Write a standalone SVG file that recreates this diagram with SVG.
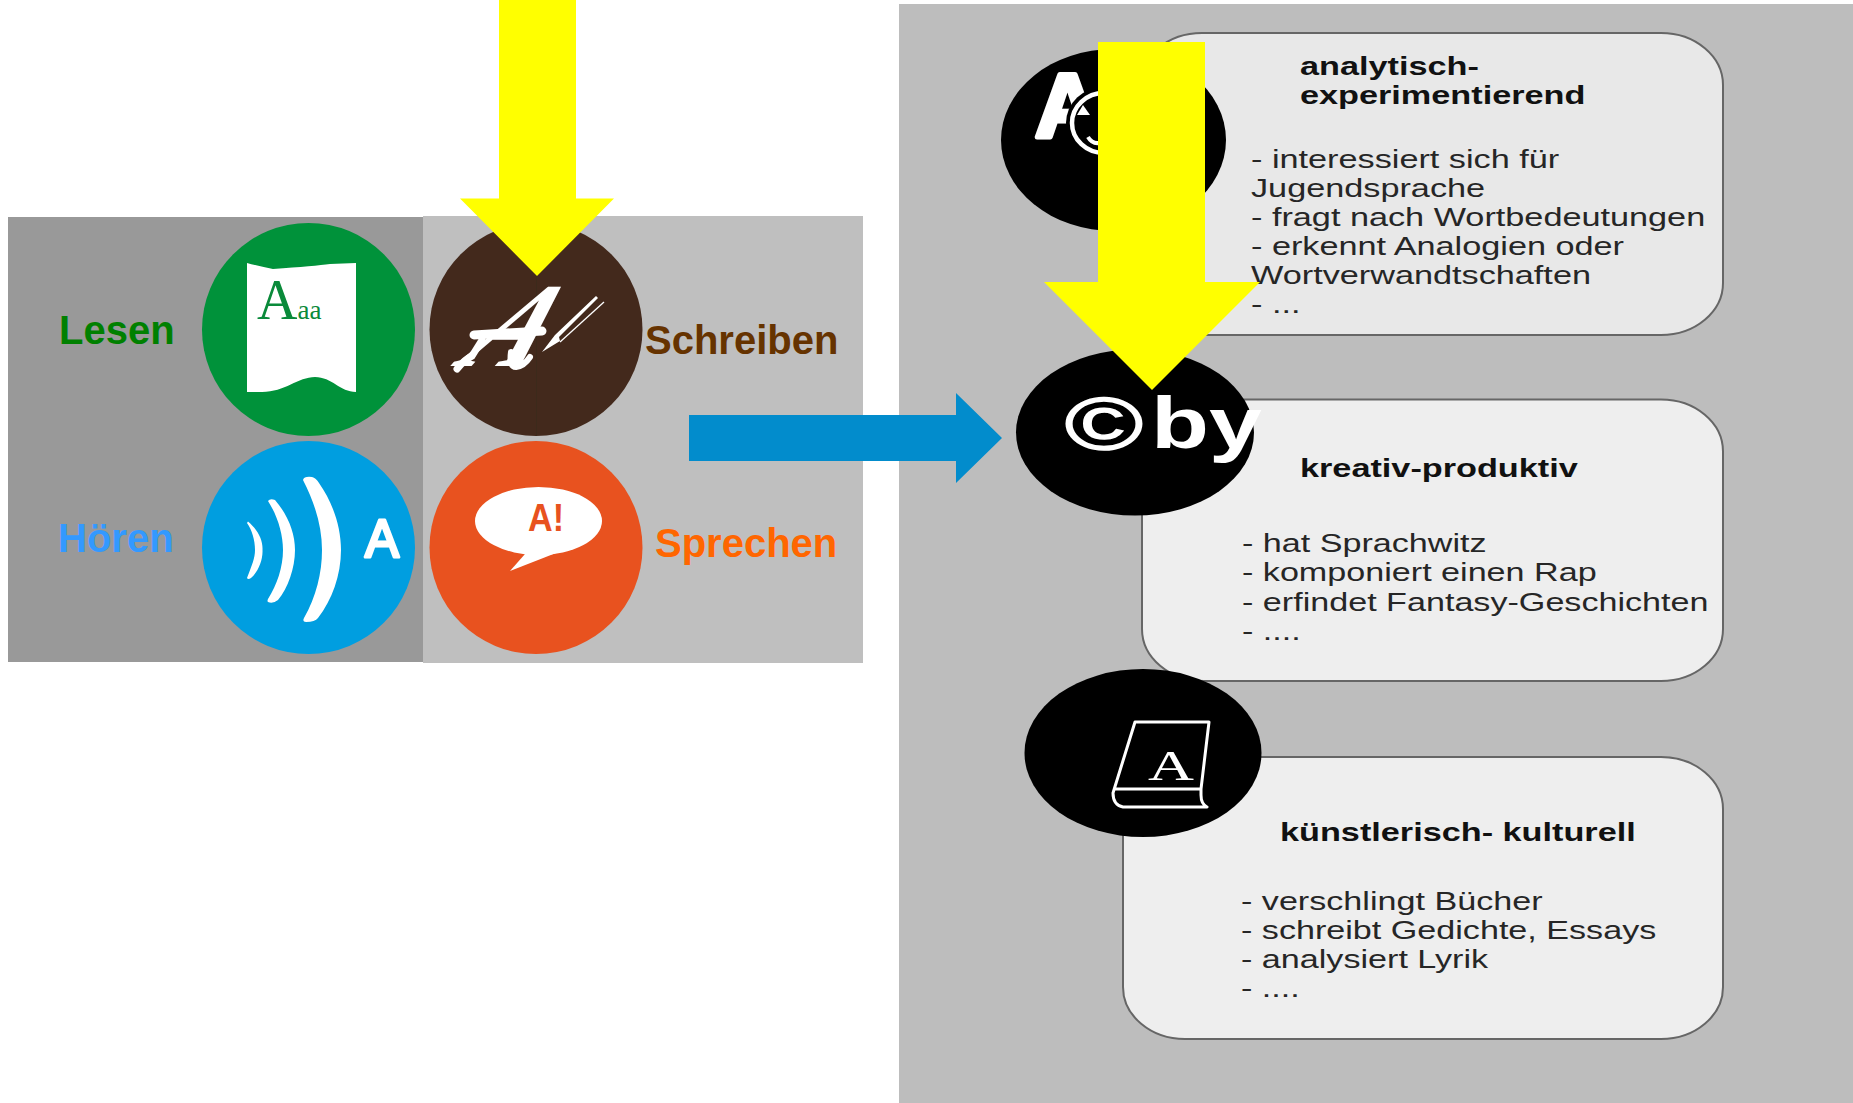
<svg xmlns="http://www.w3.org/2000/svg" width="1853" height="1103" viewBox="0 0 1853 1103">
<style>
text{font-family:"Liberation Sans",Arial,sans-serif}
.lab{font-size:40px;font-weight:700}
.ttl{font-size:25px;font-weight:700;fill:#111}
.bod{font-size:25px;fill:#262626}
.box{stroke:#666;stroke-width:2}
.w{fill:#fff}
.ser{font-family:"Liberation Serif","Times New Roman",serif}
.blk{fill:#000}
</style>
<rect width="1853" height="1103" fill="#fff"/>
<g id="panels">
<rect x="8" y="217" width="416" height="445" fill="#999"/>
<rect x="423" y="216" width="440" height="447" fill="#bfbfbf"/>
<rect x="899" y="4" width="954" height="1099" fill="#bdbdbd"/>
</g>
<g id="node-lesen">
<circle cx="308.500" cy="329.500" r="106.500" fill="#00923a"/>
<path class="w" d="M247 263Q258 266 273 269Q315 266 330 264L356 263V392C340 392 332 377 315 377C298 377 285 392 262 392H247Z"/>
<text class="ser" x="257" y="319" font-size="56" fill="#0a8a3a">A<tspan font-size="27">aa</tspan></text>
<text class="lab" x="59" y="343.500" fill="#008000">Lesen</text>
</g>
<g id="node-hoeren">
<circle cx="308.500" cy="547.500" r="106.500" fill="#009ee0"/>
<path class="w" d="M248 521.500C258 530 263 540 262.500 550C263 560 258 572 251 578Q248 580 247 578C252 565 255 558 255 550C255 540 252 530 247 523Z"/>
<path class="w" d="M268 501Q270 498 275 500C288 515 295 533 295 550C295 568 288 588 278 600Q273 604 268 602Q267 601 268 599C277 585 283 567 283 550C283 533 277 515 268 501Z"/>
<path class="w" d="M303 480Q304 476 312 477Q316 478 319 483C333 503 341 527 341 550C341 575 332 600 318 618Q315 622 306 622Q302 622 304 618C316 597 322 573 322 550C322 527 315 503 303 480Z"/>
<text class="w" x="365" y="557" font-size="53" stroke="#fff" stroke-width="3" stroke-linejoin="round" textLength="34" lengthAdjust="spacingAndGlyphs">A</text>
<text class="lab" x="58" y="552" fill="#3399ff">Hören</text>
</g>
<g id="node-schreiben">
<circle cx="536" cy="329.500" r="106.500" fill="#43291c"/>
<line x1="536.500" y1="270" x2="536.500" y2="436" stroke="#3c2a1b"/>
<text class="w ser" transform="matrix(0.92 0 -0.7 1 456 366)" font-size="120" font-weight="700" font-style="italic">A</text>
<path d="M474 335L542 331" fill="none" stroke="#fff" stroke-width="9" stroke-linecap="round"/>
<path d="M457 369Q464 360 472 356L482 340" fill="none" stroke="#fff" stroke-width="7" stroke-linecap="round"/>
<path d="M511 352Q509 367 516 367Q524 366 530 357" fill="none" stroke="#fff" stroke-width="6" stroke-linecap="round"/>
<path class="w" d="M555 335L596 296L598 298L559 337L560 341L542 352Z"/>
<line x1="560" y1="342" x2="604" y2="302" stroke="#fff" stroke-width="1.300"/>
<text class="lab" x="645" y="353.500" fill="#663300">Schreiben</text>
</g>
<g id="node-sprechen">
<circle cx="536" cy="547.500" r="106.500" fill="#e8521f"/>
<ellipse class="w" cx="538.500" cy="521" rx="63.500" ry="34"/>
<path class="w" d="M525 554L510 571L556 553Z"/>
<text x="528" y="531" font-size="39" font-weight="700" fill="#e8521f" textLength="36" lengthAdjust="spacingAndGlyphs">A!</text>
<text class="lab" x="655" y="556.500" fill="#ff6600">Sprechen</text>
</g>
<g id="node-analytisch">
<rect class="box" x="1140" y="33" width="583" height="302" rx="62" ry="52" fill="#e8e8e8"/>
<ellipse class="blk" cx="1113.500" cy="140" rx="112.500" ry="91"/>
<text class="w" x="1035" y="137" font-size="90" font-weight="700" stroke="#fff" stroke-width="5" stroke-linejoin="round">A</text>
<ellipse class="blk" cx="1104" cy="123" rx="38" ry="36"/>
<ellipse cx="1104" cy="123" rx="32" ry="30" fill="none" stroke="#fff" stroke-width="4.500"/>
<path class="w" d="M1083 105L1090 115H1077Z"/>
<path d="M1088 137Q1092 144 1099 143" fill="none" stroke="#fff" stroke-width="4"/>
<text class="ttl" transform="matrix(1.37 0 0 1 1300 75)">analytisch-</text>
<text class="ttl" transform="matrix(1.37 0 0 1 1300 104)">experimentierend</text>
<text class="bod" transform="matrix(1.37 0 0 1 1251 168)">- interessiert sich für</text>
<text class="bod" transform="matrix(1.37 0 0 1 1251 197)">Jugendsprache</text>
<text class="bod" transform="matrix(1.37 0 0 1 1251 226)">- fragt nach Wortbedeutungen</text>
<text class="bod" transform="matrix(1.37 0 0 1 1251 255)">- erkennt Analogien oder</text>
<text class="bod" transform="matrix(1.37 0 0 1 1251 284)">Wortverwandtschaften</text>
<text class="bod" transform="matrix(1.37 0 0 1 1251 313)">- ...</text>
</g>
<g id="node-kreativ">
<rect class="box" x="1142" y="399.500" width="581" height="281.500" rx="62" ry="52" fill="#eee"/>
<ellipse class="blk" cx="1135" cy="432.500" rx="119" ry="83"/>
<text class="w" transform="matrix(1.43 0 0 1 1065 449)" font-size="74" stroke="#fff" stroke-width="1.500">©</text>
<text class="w" transform="matrix(1.3 0 0 1 1151 448)" font-size="73" font-weight="700">by</text>
<text class="ttl" transform="matrix(1.37 0 0 1 1300 477)">kreativ-produktiv</text>
<text class="bod" transform="matrix(1.365 0 0 1 1242 552)">- hat Sprachwitz</text>
<text class="bod" transform="matrix(1.365 0 0 1 1242 581)">- komponiert einen Rap</text>
<text class="bod" transform="matrix(1.365 0 0 1 1242 610.500)">- erfindet Fantasy-Geschichten</text>
<text class="bod" transform="matrix(1.365 0 0 1 1242 640)">- ....</text>
</g>
<g id="node-kuenstlerisch">
<rect class="box" x="1123" y="757" width="600" height="282" rx="62" ry="52" fill="#eee"/>
<ellipse class="blk" cx="1143" cy="753" rx="118.500" ry="84"/>
<path d="M1135 722H1209L1201 789V795Q1201 804 1207 807H1123Q1113 805 1113 793L1135 722ZM1115 789H1201" fill="none" stroke="#fff" stroke-width="3" stroke-linejoin="round"/>
<text class="w ser" transform="matrix(1.48 0 0 1 1148 780)" font-size="43">A</text>
<text class="ttl" transform="matrix(1.37 0 0 1 1280 841)">künstlerisch- kulturell</text>
<text class="bod" transform="matrix(1.365 0 0 1 1241 910)">- verschlingt Bücher</text>
<text class="bod" transform="matrix(1.365 0 0 1 1241 939)">- schreibt Gedichte, Essays</text>
<text class="bod" transform="matrix(1.365 0 0 1 1241 968)">- analysiert Lyrik</text>
<text class="bod" transform="matrix(1.365 0 0 1 1241 997)">- ....</text>
</g>
<g id="connectors">
<polygon fill="#ffff00" points="499,0 576,0 576,198.500 614,198.500 537,276 460,198.500 499,198.500"/>
<polygon fill="#028ccc" points="689,415 956,415 956,393 1002,438 956,483 956,461 689,461"/>
<polygon fill="#ffff00" points="1098,42 1205,42 1205,282 1260,282 1152,390 1044,282 1098,282"/>
</g>
</svg>
